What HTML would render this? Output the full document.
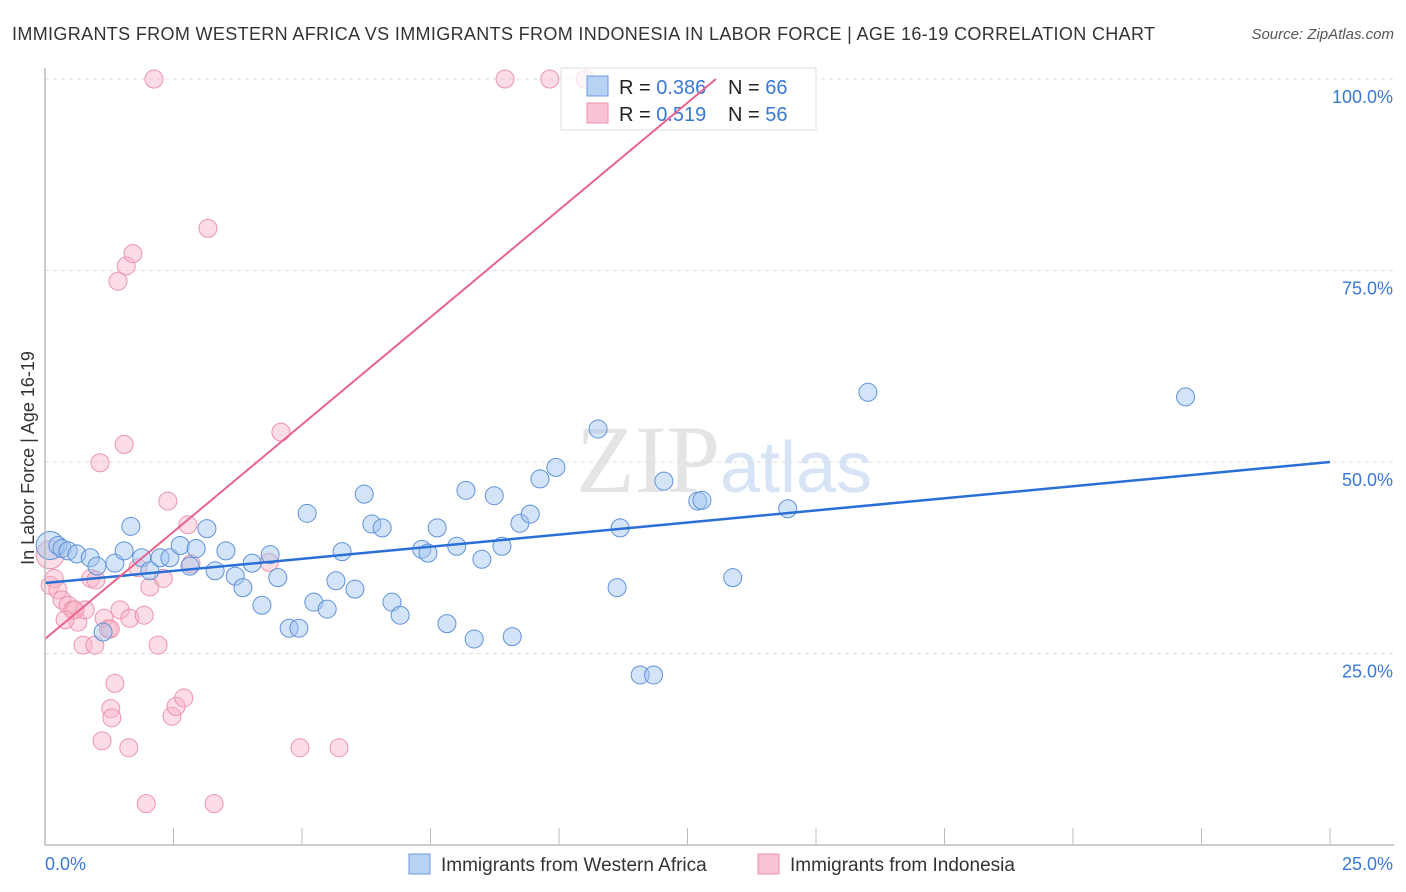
<!DOCTYPE html>
<html><head><meta charset="utf-8"><style>
body{margin:0;background:#fff;font-family:"Liberation Sans",sans-serif}
#wrap{position:relative;width:1406px;height:892px;overflow:hidden}
</style></head><body>
<div id="wrap">
<svg id="svg" width="1406" height="892" xmlns="http://www.w3.org/2000/svg">
<text x="12" y="40" font-size="18" fill="#333" textLength="1143">IMMIGRANTS FROM WESTERN AFRICA VS IMMIGRANTS FROM INDONESIA IN LABOR FORCE | AGE 16-19 CORRELATION CHART</text>
<text x="1394" y="39" font-size="15" fill="#555" font-style="italic" text-anchor="end">Source: ZipAtlas.com</text>
<text x="720" y="492" font-size="96" fill="#e4e4e4" text-anchor="end" font-family="Liberation Serif">ZIP</text>
<text x="720" y="492" font-size="72" fill="#d6e4f5">atlas</text>
<g id="grid"></g><g id="pts"></g>
<g>
<rect x="561" y="68" width="255" height="62" fill="#fff" fill-opacity="0.75" stroke="#ddd"/>
<rect x="587" y="76" width="21" height="20" fill="#b8d2f4" stroke="#6c9be0"/>
<rect x="587" y="103" width="21" height="20" fill="#f8c4d4" stroke="#ec8fab"/>
<text x="619" y="94" font-size="20" fill="#222">R = <tspan fill="#3a78d4">0.386</tspan></text>
<text x="728" y="94" font-size="20" fill="#222">N = <tspan fill="#3a78d4">66</tspan></text>
<text x="619" y="121" font-size="20" fill="#222">R = <tspan fill="#3a78d4"> 0.519</tspan></text>
<text x="728" y="121" font-size="20" fill="#222">N = <tspan fill="#3a78d4">56</tspan></text>
</g>
<g id="lines"></g><g id="axes"></g>
<text transform="translate(34,458) rotate(-90)" font-size="18" fill="#333" text-anchor="middle">In Labor Force | Age 16-19</text>
<g>
<rect x="409" y="854" width="21" height="20" fill="#b8d2f4" stroke="#6c9be0"/>
<text x="441" y="871" font-size="19" fill="#333">Immigrants from Western Africa</text>
<rect x="758" y="854" width="21" height="20" fill="#f8c4d4" stroke="#ec8fab"/>
<text x="790" y="871" font-size="19" fill="#333">Immigrants from Indonesia</text>
</g>
</svg></div>
<script>
const yTicks=[25,50,75,100];
const yTickLabels=["25.0%","50.0%","75.0%","100.0%"];
const xTickCount=10;
const blueX=[0.1,0.25,0.33,0.45,0.62,0.88,1.01,1.36,1.54,1.67,1.88,2.04,2.24,2.43,2.63,2.82,2.94,3.15,3.31,3.52,3.70,3.85,4.03,4.22,4.38,4.53,4.75,4.94,5.10,5.23,5.49,5.66,5.78,6.03,6.21,6.36,6.56,6.75,6.91,7.33,7.45,7.63,7.82,8.01,8.19,8.35,8.50,8.74,8.89,9.09,9.24,9.44,9.63,9.94,10.76,11.13,11.19,11.58,11.84,12.04,12.70,12.78,13.38,14.45,16.01,22.19,1.13];
const blueY=[39.1,39.1,38.7,38.4,38.0,37.5,36.4,36.8,38.4,41.6,37.5,35.8,37.5,37.5,39.1,36.4,38.7,41.3,35.8,38.4,35.1,33.6,36.8,31.3,37.9,34.9,28.3,28.3,43.3,31.7,30.8,34.5,38.3,33.4,45.8,41.9,41.4,31.7,30.0,38.6,38.1,41.4,28.9,39.0,46.3,26.9,37.3,45.6,39.0,27.2,42.0,43.2,47.8,49.3,54.3,33.6,41.4,22.2,22.2,47.5,44.9,45.0,34.9,43.9,59.1,58.5,27.8];
const pinkX=[0.1,0.1,0.18,0.25,0.33,0.45,0.54,0.64,0.74,0.78,0.89,0.97,0.99,1.07,1.11,1.15,1.23,1.28,1.30,1.36,1.46,1.54,1.63,1.65,1.42,1.58,1.71,1.81,1.93,1.97,2.04,2.12,2.20,2.30,2.39,2.47,2.55,2.70,2.78,2.84,3.17,3.29,4.36,4.59,4.96,5.72,8.95,9.82,10.51,1.27,0.58,0.39];
const pinkY=[37.9,33.9,34.8,33.3,32.0,31.3,30.7,29.1,26.1,30.7,34.8,26.1,34.6,49.9,13.6,29.6,28.2,17.8,16.6,21.1,30.7,52.3,12.7,29.6,73.6,75.6,77.2,36.2,30.0,5.4,33.7,100,26.1,34.8,44.9,16.8,18.1,19.2,41.8,36.7,80.5,5.4,36.9,53.9,12.7,12.7,100,100,100,28.2,30.7,29.4];
const blueLine=[34.2,50.0];
const pinkLine=[26.9,5.6];
const X=v=>45+v/25*1285, Y=v=>845-v/100*766;
const NS="http://www.w3.org/2000/svg";
function mk(t,a,p){const e=document.createElementNS(NS,t);for(const k in a)e.setAttribute(k,a[k]);p.appendChild(e);return e;}
const grid=document.getElementById('grid'),axes=document.getElementById('axes'),pts=document.getElementById('pts'),lines=document.getElementById('lines');
yTicks.forEach((t,i)=>{
 const g=mk('line',{x1:45,x2:1394,y1:Y(t),y2:Y(t),stroke:'#ddd','stroke-dasharray':'4,4'},grid);
 
 
 const l=mk('text',{x:1393,y:Y(t)+24,'font-size':18,fill:'#3a78d4','text-anchor':'end'},axes);
 l.textContent=yTickLabels[i];
 
 
});
const ax=mk('line',{x1:45,x2:45,y1:68,y2:845,stroke:'#bbb','stroke-width':1.5},axes);


const bx=mk('line',{x1:45,x2:1394,y1:845,y2:845,stroke:'#bbb','stroke-width':1.5},axes);


for(let i=1;i<=xTickCount;i++){const tx=mk('line',{x1:X(i*2.5),x2:X(i*2.5),y1:828,y2:845,stroke:'#bbb'},axes);
 
 }
const x0=mk('text',{x:45,y:870,'font-size':18,fill:'#3a78d4'},axes);x0.textContent='0.0%';


const x1=mk('text',{x:1393,y:870,'font-size':18,fill:'#3a78d4','text-anchor':'end'},axes);x1.textContent='25.0%';


pinkX.forEach((x,i)=>{const c=mk('circle',{cx:X(x),cy:Y(pinkY[i]),r:i===0?14:9,fill:'rgba(248,180,200,0.45)',stroke:'#ec93ae','stroke-width':1},pts);
 
 });
blueX.forEach((x,i)=>{const c=mk('circle',{cx:X(x),cy:Y(blueY[i]),r:i===0?14:9,fill:'rgba(160,196,240,0.45)',stroke:'#5f93d8','stroke-width':1},pts);
 
 });
const bl=mk('line',{x1:X(0),y1:Y(blueLine[0]),x2:X(25),y2:Y(blueLine[1]),stroke:'#2a6fd6','stroke-width':2.5},lines);


const xe=(100-pinkLine[0])/pinkLine[1];
const pl=mk('line',{x1:X(0),y1:Y(pinkLine[0]),x2:X(xe),y2:Y(100),stroke:'#e86490','stroke-width':2},lines);


</script>
</body></html>
